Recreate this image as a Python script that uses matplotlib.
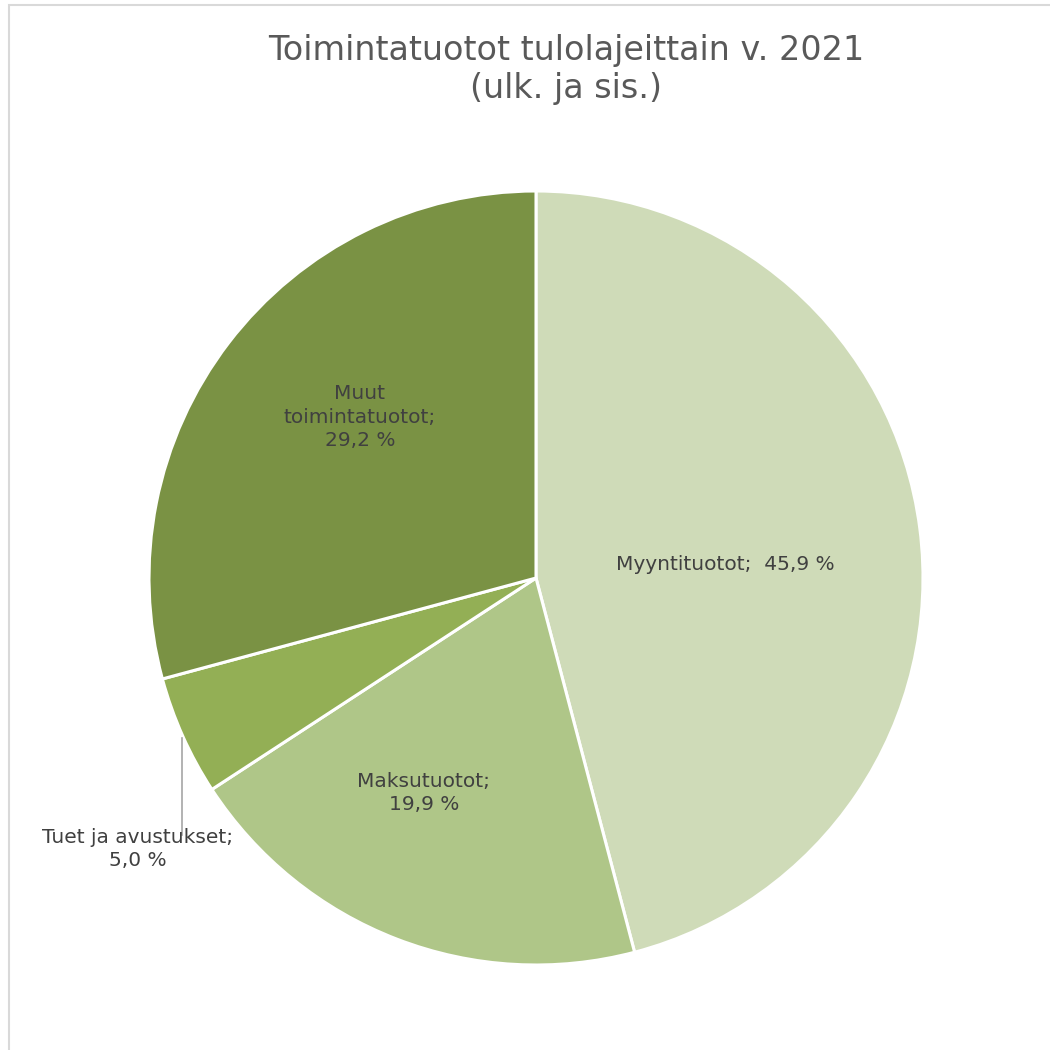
import numpy as np
import matplotlib.pyplot as plt
from matplotlib.patches import Rectangle

plt.rcParams['font.family'] = ['DejaVu Sans']

categories = ['Myyntituotot', 'Maksutuotot', 'Tuet ja avustukset', 'Muut toimintatuotot']
shares = [45.9, 19.9, 5.0, 29.2]
label_texts = ['Myyntituotot;  45,9 %', 'Maksutuotot;\n19,9 %',
               'Tuet ja avustukset;\n5,0 %', 'Muut\ntoimintatuotot;\n29,2 %']
colors = ['#CFDBB8', '#AFC688', '#93AF55', '#7A9244']
title = 'Toimintatuotot tulolajeittain v. 2021\n(ulk. ja sis.)'

# label positions in radius units (layout only)
label_pos = [(0.49, 0.035), (-0.29, -0.555), (-1.03, -0.70), (-0.455, 0.415)]

W = H = 1050
fig = plt.figure(figsize=(10.5, 10.5), dpi=100)
fig.patches.append(Rectangle((9 / W, -0.05), 1.2, 1 - 5 / H + 0.05,
                             transform=fig.transFigure, fill=False,
                             edgecolor='#D9D9D9', linewidth=1.5))

cx, cy, r = 536, 578, 387
ax = fig.add_axes([(cx - r) / W, (H - cy - r) / H, 2 * r / W, 2 * r / H])
ax.pie(shares, colors=colors, startangle=90, counterclock=False, radius=1,
       wedgeprops=dict(edgecolor='white', linewidth=2.2))
ax.set_xlim(-1, 1)
ax.set_ylim(-1, 1)
ax.set_aspect('equal')
ax.axis('off')

for (x, y), t in zip(label_pos, label_texts):
    ax.text(x, y, t, ha='center', va='center', fontsize=14.5, color='#404040',
            linespacing=1.3, clip_on=False)

# leader line for the small slice
ax.plot([-0.915, -0.915], [-0.413, -0.665], color='#A6A6A6', lw=1.2, clip_on=False)

fig.text(0.539, 0.934, title, ha='center', va='center', fontsize=24,
         color='#595959', linespacing=1.2)

fig.savefig('out.png', dpi=100)
